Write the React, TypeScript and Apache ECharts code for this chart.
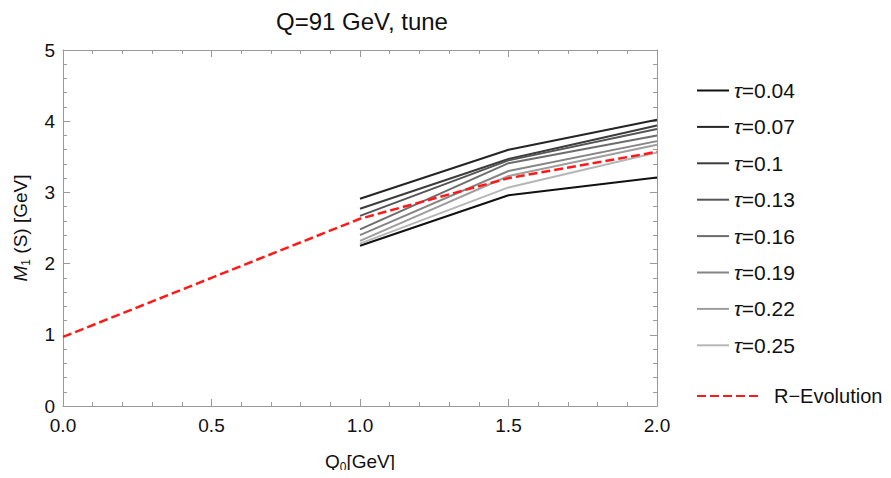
import React, { useEffect, useRef } from "react";
import * as echarts from "echarts";

const q0 = [1.0, 1.5, 2.0];
const tauLabels = ["0.04", "0.07", "0.1", "0.13", "0.16", "0.19", "0.22", "0.25"];
const tau004 = [2.25, 2.96, 3.21];
const tau007 = [2.91, 3.6, 4.02];
const tau010 = [2.77, 3.47, 3.94];
const tau013 = [2.67, 3.45, 3.89];
const tau016 = [2.48, 3.41, 3.8];
const tau019 = [2.4, 3.3, 3.72];
const tau022 = [2.32, 3.23, 3.67];
const tau025 = [2.28, 3.07, 3.56];
const tauValues = [tau004, tau007, tau010, tau013, tau016, tau019, tau022, tau025];
const tauColors = ["#111111", "#252525", "#3d3d3d", "#555555", "#6d6d6d", "#858585", "#9e9e9e", "#b6b6b6"];
const rEvoX = [0.0, 0.5, 1.0, 1.5, 2.0];
const rEvoY = [0.97, 1.8, 2.63, 3.2, 3.57];
const xTicks = ["0.0", "0.5", "1.0", "1.5", "2.0"];

const FONT = "Liberation Sans, Arial, sans-serif";
const TXT = "#111111";
const FRAME = "#9a9a9a";

export default function App() {
  const ref = useRef<HTMLDivElement>(null);
  useEffect(() => {
    if (!ref.current) return;
    const chart = echarts.init(ref.current, undefined, { renderer: "svg" });
    const tauSeries = tauValues.map((vals, i) => ({
      name: "τ=" + tauLabels[i],
      type: "line",
      symbol: "none",
      data: q0.map((x, j) => [x, vals[j]]),
      lineStyle: { color: tauColors[i], width: 2 },
      itemStyle: { color: tauColors[i] },
      z: 2,
    }));
    const axisCommon = {
      type: "value",
      axisLine: { show: true, onZero: false, lineStyle: { color: FRAME, width: 1 } },
      axisTick: { show: true, inside: true, length: 7, lineStyle: { color: FRAME } },
      minorTick: { show: true, splitNumber: 5, length: 4, lineStyle: { color: FRAME } },
      splitLine: { show: false },
    };
    const subRich = {
      i: { fontFamily: FONT, fontSize: 19, fontStyle: "italic", color: TXT, lineHeight: 24 },
      n: { fontFamily: FONT, fontSize: 19, color: TXT, lineHeight: 24 },
      s: { fontFamily: FONT, fontSize: 12, color: TXT, lineHeight: 13, verticalAlign: "bottom" },
    };
    chart.setOption({
      animation: false,
      backgroundColor: "#ffffff",
      title: {
        text: "Q=91 GeV, tune",
        left: 362,
        top: 7,
        padding: 0,
        textAlign: "center",
        textStyle: { fontFamily: FONT, fontSize: 24, fontWeight: "normal", color: TXT, lineHeight: 28 },
      },
      grid: { left: 63, right: 234, top: 50, bottom: 63, containLabel: false },
      legend: [
        {
          data: tauSeries.map((s) => s.name),
          orient: "vertical",
          left: 696,
          top: 80,
          padding: 0,
          itemWidth: 32,
          itemHeight: 14,
          itemGap: 15.4,
          itemStyle: { opacity: 0 },
          textStyle: {
            fontFamily: FONT,
            fontSize: 21,
            color: TXT,
            lineHeight: 21,
            rich: { i: { fontFamily: FONT, fontSize: 21, fontStyle: "italic", color: TXT, lineHeight: 21 } },
          },
          formatter: (n: string) => "{i|τ}" + n.slice(1),
          selectedMode: false,
        },
        {
          data: ["R−Evolution"],
          orient: "vertical",
          left: 696,
          top: 386,
          padding: 0,
          itemWidth: 61,
          itemHeight: 14,
          itemStyle: { opacity: 0 },
          textStyle: { fontFamily: FONT, fontSize: 20, color: TXT, lineHeight: 20, padding: [0, 0, 0, 11] },
          selectedMode: false,
        },
      ],
      xAxis: [
        {
          ...axisCommon,
          min: 0,
          max: 2,
          interval: 0.5,
          name: "{n|Q}{s|0}{n|[GeV]}",
          nameLocation: "middle",
          nameGap: 43,
          nameTextStyle: { rich: subRich },
          axisLabel: {
            fontFamily: FONT,
            fontSize: 19,
            color: TXT,
            margin: 10,
            formatter: (v: number) => xTicks[Math.round(v * 2)] ?? "",
          },
        },
        {
          ...axisCommon,
          position: "top",
          min: 0,
          max: 2,
          interval: 0.5,
          axisLabel: { show: false },
        },
      ],
      yAxis: [
        {
          ...axisCommon,
          min: 0,
          max: 5,
          interval: 1,
          name: "{i|M}{s|1}{n| (S) [GeV]}",
          nameLocation: "middle",
          nameGap: 31,
          nameTextStyle: { rich: subRich },
          axisLabel: { fontFamily: FONT, fontSize: 19, color: TXT, margin: 8 },
        },
        {
          ...axisCommon,
          position: "right",
          min: 0,
          max: 5,
          interval: 1,
          axisLabel: { show: false },
        },
      ],
      series: [
        ...tauSeries,
        {
          name: "R−Evolution",
          type: "line",
          symbol: "none",
          data: rEvoX.map((x, j) => [x, rEvoY[j]]),
          lineStyle: { color: "#ff1a1a", width: 2.5, type: [9, 4] },
          itemStyle: { color: "#ff1a1a" },
          z: 3,
        },
      ],
    });
    return () => chart.dispose();
  }, []);
  return <div ref={ref} style={{ width: 891, height: 478, margin: -8 }} />;
}
